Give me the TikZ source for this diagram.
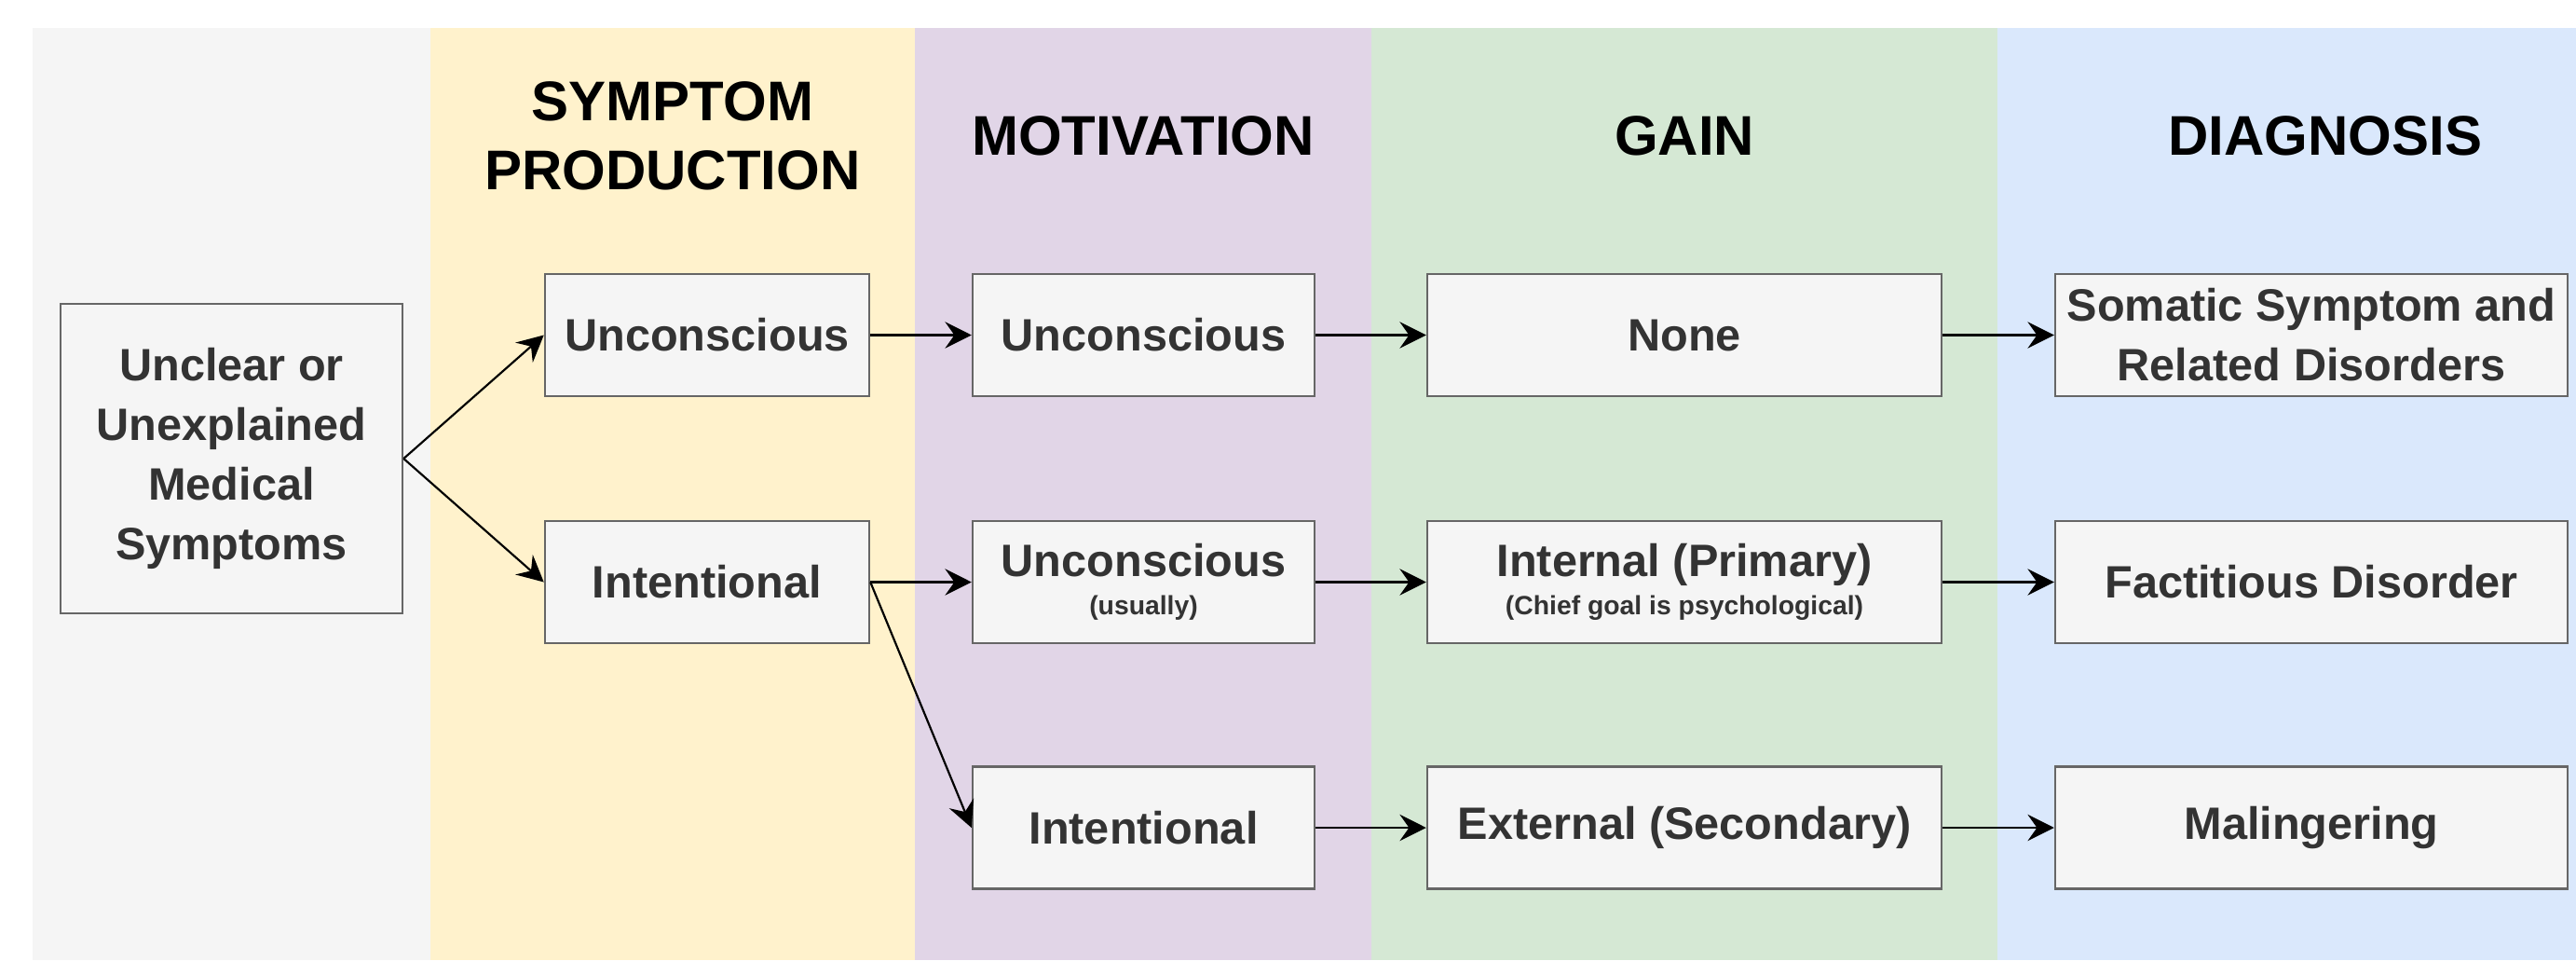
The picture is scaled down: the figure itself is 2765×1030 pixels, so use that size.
\documentclass[tikz,border=0pt]{standalone}
\usepackage{fontspec}
\setmainfont{Liberation Sans}
\usetikzlibrary{arrows.meta}
\definecolor{laneGray}{HTML}{F5F5F5}
\definecolor{laneYellow}{HTML}{FFF2CC}
\definecolor{lanePurple}{HTML}{E1D5E7}
\definecolor{laneGreen}{HTML}{D5E8D4}
\definecolor{laneBlue}{HTML}{DAE8FC}
\definecolor{boxFill}{HTML}{F5F5F5}
\definecolor{boxLine}{HTML}{666666}
\definecolor{boxText}{HTML}{333333}
\newcommand{\subnote}[1]{{\fontsize{8.5}{10}\selectfont #1}}
\begin{document}
\begin{tikzpicture}[x=0.3pt,y=-0.3pt,
  box/.style={draw=boxLine, fill=boxFill, line width=0.75pt, text=boxText,
    font=\bfseries\fontsize{14.6}{19.2}\selectfont, align=center,
    inner sep=0pt, minimum height=39.3pt},
  spbox/.style={box, minimum width=104.4pt},
  motbox/.style={box, minimum width=110.1pt},
  gainbox/.style={box, minimum width=165.6pt},
  diagbox/.style={box, minimum width=165pt},
  header/.style={font=\bfseries\fontsize{18}{22.2}\selectfont, align=center, text=black},
  link/.style={line width=0.65pt, -{Stealth[length=8.5pt,width=8.5pt,inset=3pt]}}]

% page and swim lanes
\useasboundingbox (0,0) rectangle (2765,1030);
\fill[white] (0,0) rectangle (2765,1030);
\fill[laneGray]   (35,30)   rectangle (462,1030);
\fill[laneYellow] (462,30)  rectangle (982,1030);
\fill[lanePurple] (982,30)  rectangle (1472,1030);
\fill[laneGreen]  (1472,30) rectangle (2144,1030);
\fill[laneBlue]   (2144,30) rectangle (2765,1030);

% column headings
\node[header] (hsp)   at (722,146)  {SYMPTOM\\PRODUCTION};
\node[header] (hmot)  at (1227,146) {MOTIVATION};
\node[header] (hgain) at (1808,146) {GAIN};
\node[header] (hdiag) at (2496,146) {DIAGNOSIS};

% starting point
\node[box, minimum width=110.1pt, minimum height=99.6pt] (start) at (248.5,492)
  {Unclear or\\Unexplained\\Medical\\Symptoms};

% symptom production
\node[spbox] (sp1) at (759,359.5) {Unconscious};
\node[spbox] (sp2) at (759,624.5) {Intentional};

% motivation
\node[motbox] (mot1) at (1227.5,359.5) {Unconscious};
\node[motbox] (mot2) at (1227.5,624.5) {Unconscious\\[-7pt]\subnote{(usually)}};
\node[motbox] (mot3) at (1227.5,888)   {Intentional};

% gain
\node[gainbox] (gain1) at (1808,359.5) {None};
\node[gainbox] (gain2) at (1808,624.5) {Internal (Primary)\\[-7pt]\subnote{(Chief goal is psychological)}};
\node[gainbox] (gain3) at (1808,888)   {External (Secondary)};

% diagnosis
\node[diagbox] (diag1) at (2481,359.5) {Somatic Symptom and\\Related Disorders};
\node[diagbox] (diag2) at (2481,624.5) {Factitious Disorder};
\node[diagbox] (diag3) at (2481,888)   {Malingering};

% connectors
\draw[link] (start.east) -- (sp1.west);
\draw[link] (start.east) -- (sp2.west);
\draw[link] (sp1.east) -- (mot1.west);
\draw[link] (sp2.east) -- (mot2.west);
\draw[link] (sp2.east) -- (mot3.west);
\draw[link] (mot1.east) -- (gain1.west);
\draw[link] (mot2.east) -- (gain2.west);
\draw[link] (mot3.east) -- (gain3.west);
\draw[link] (gain1.east) -- (diag1.west);
\draw[link] (gain2.east) -- (diag2.west);
\draw[link] (gain3.east) -- (diag3.west);
\end{tikzpicture}
\end{document}
